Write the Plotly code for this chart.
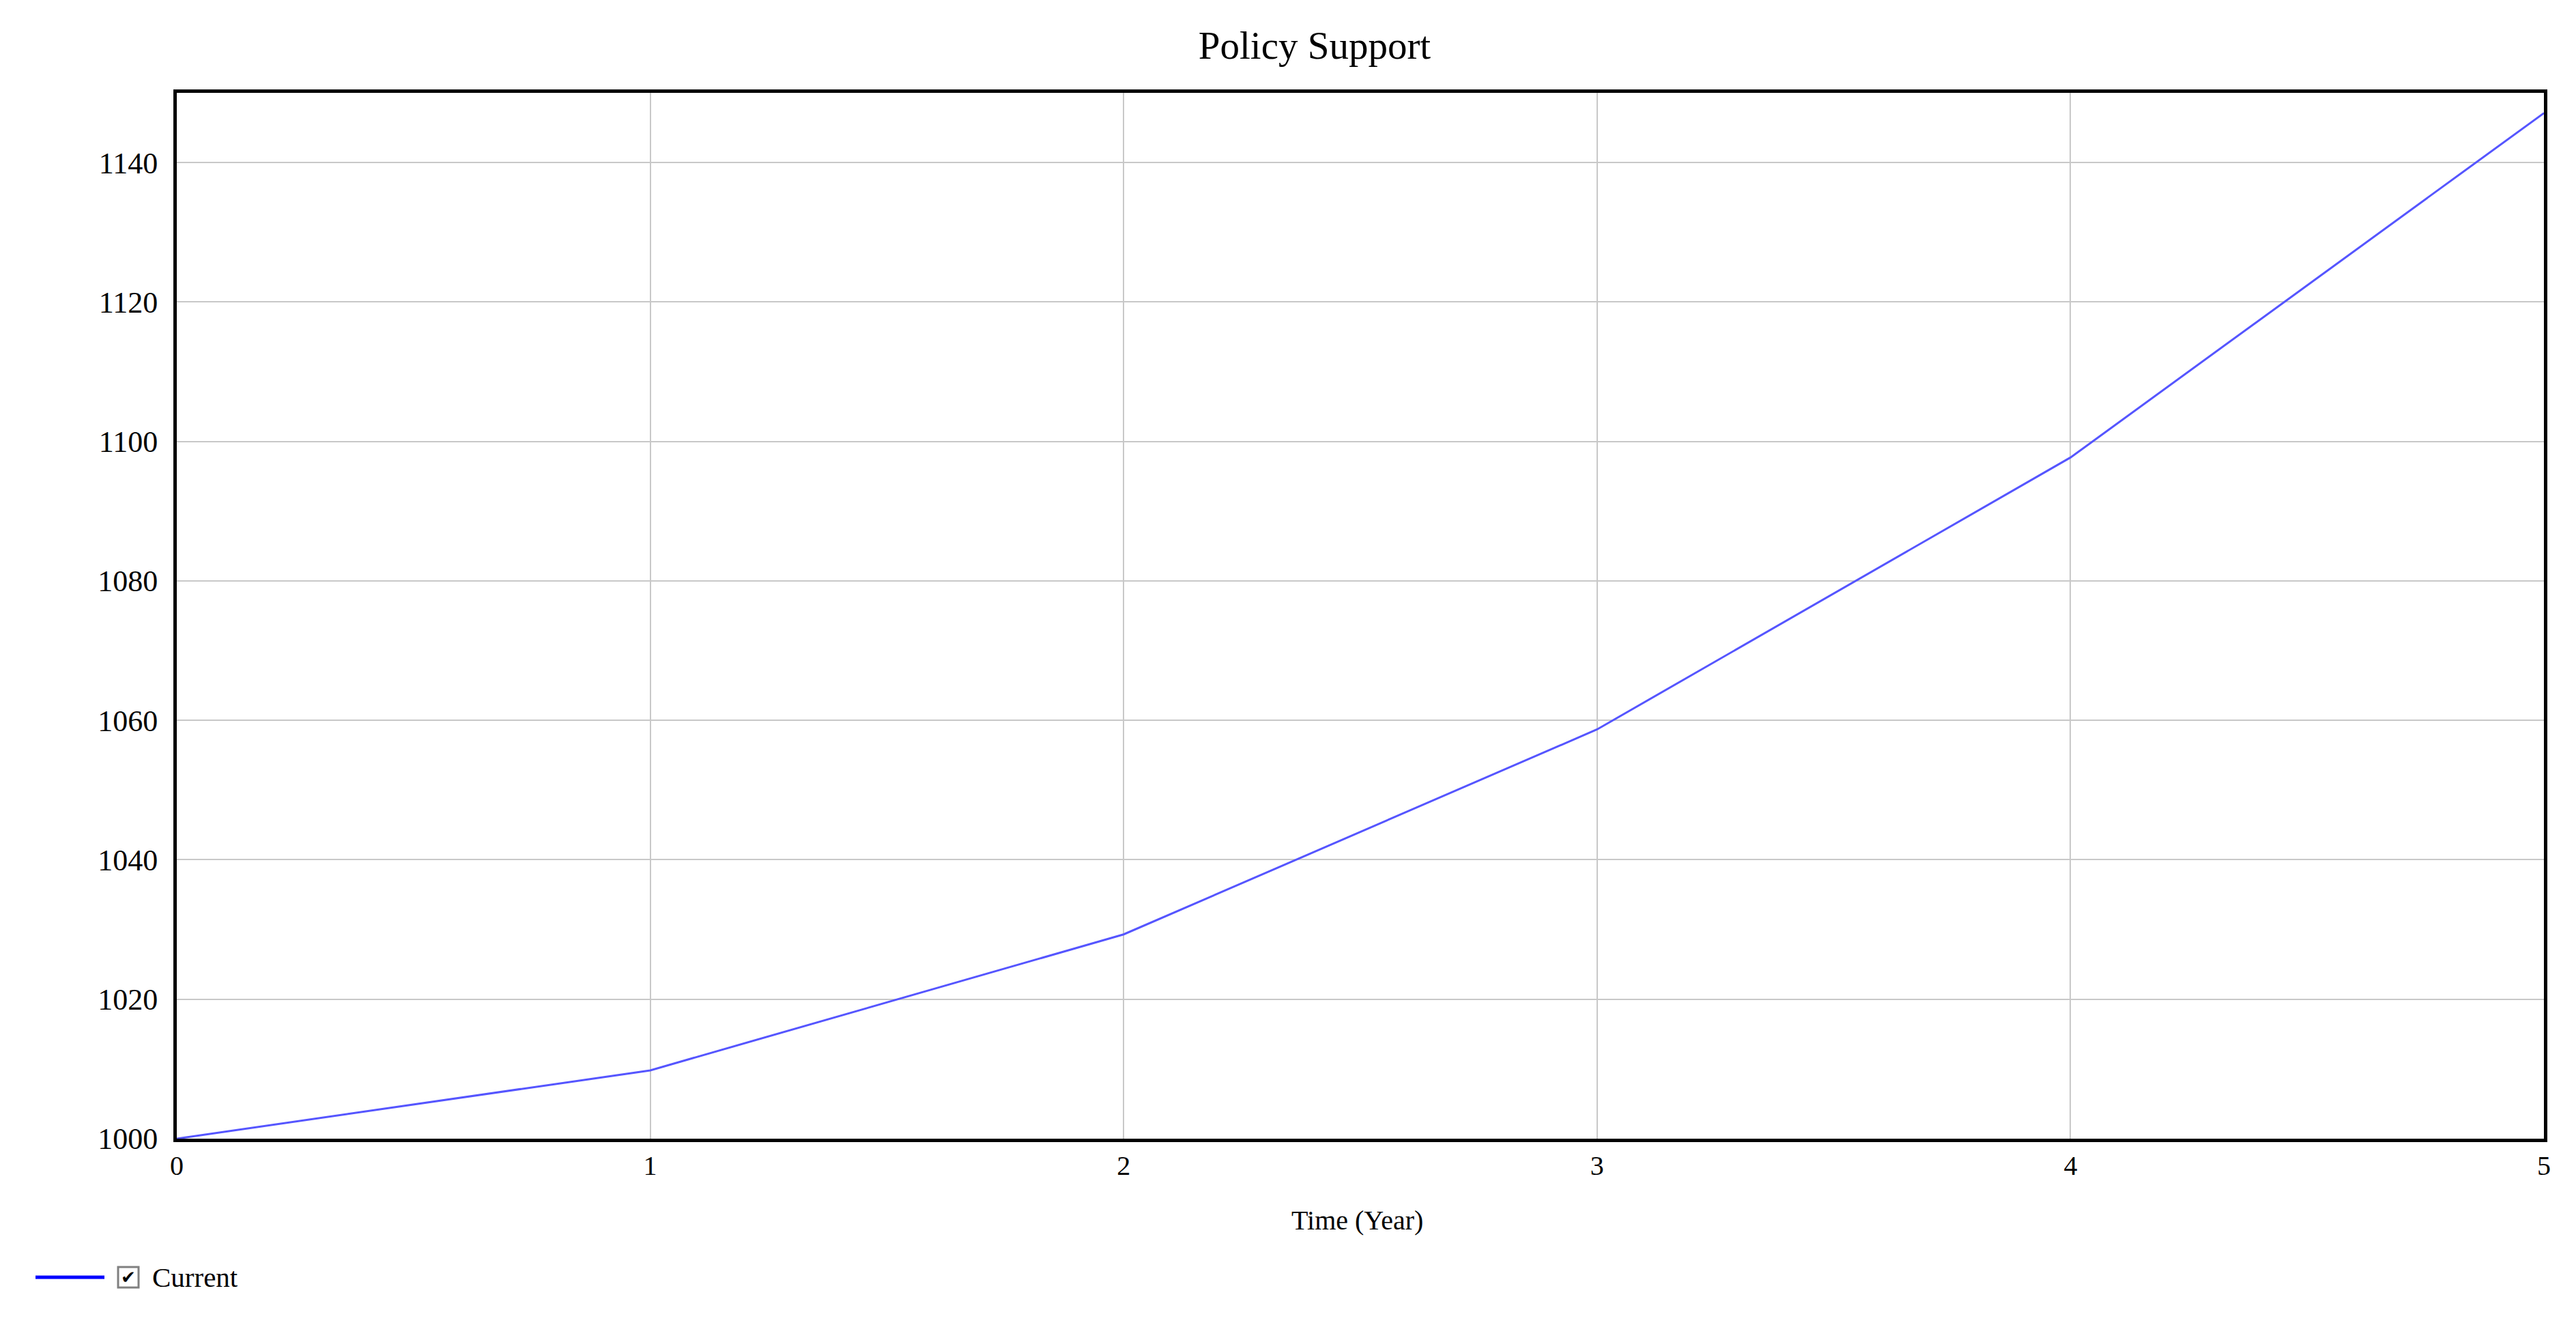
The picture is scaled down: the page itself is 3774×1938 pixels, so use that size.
import plotly.graph_objects as go

# Data
years = [0, 1, 2, 3, 4, 5]
policy_support = [1000.0, 1009.8, 1029.3, 1058.7, 1097.7, 1147.1]
x_ticks = [0, 1, 2, 3, 4, 5]
y_ticks = [1000, 1020, 1040, 1060, 1080, 1100, 1120, 1140]
series_name = "Current"

W, H = 3774, 1938
L, R, T, B = 251, 55, 128, 278
FONT = "Liberation Serif, Times New Roman, serif"

pw = W - L - R
ph = H - T - B
def ppx(x):
    return (x - L) / pw
def ppy(y):
    return (H - B - y) / ph

fig = go.Figure()
fig.add_trace(go.Scatter(
    x=years, y=policy_support, mode="lines", name=series_name,
    line=dict(color="rgb(85,85,255)", width=3), showlegend=False,
))

fig.update_layout(
    width=W, height=H,
    margin=dict(l=L, r=R, t=T, b=B, pad=0),
    paper_bgcolor="white", plot_bgcolor="white",
    font=dict(family=FONT, color="black", size=44),
    title=dict(text="Policy Support", x=1918 / W, xanchor="center",
               y=1 - 58 / H, yanchor="middle", font=dict(size=57, family=FONT)),
    xaxis=dict(range=[0, 5], tickvals=x_ticks, ticktext=[str(v) for v in x_ticks],
               showgrid=True, gridcolor="#c8c8c8", gridwidth=2,
               showline=True, linecolor="black", linewidth=5, mirror=True,
               ticks="", zeroline=False, tickfont=dict(size=40, family=FONT)),
    yaxis=dict(range=[1000, 1150], tickvals=y_ticks, ticktext=[str(v) for v in y_ticks],
               showgrid=True, gridcolor="#c8c8c8", gridwidth=2,
               showline=True, linecolor="black", linewidth=5, mirror=True,
               ticks="", zeroline=False, tickfont=dict(size=44, family=FONT),
               ticklabelstandoff=14),
)

# X axis title
fig.add_annotation(xref="paper", yref="paper", x=ppx(1980), y=ppy(1779),
                   text="Time (Year)", showarrow=False, xanchor="center", yanchor="middle",
                   font=dict(size=40, color="black", family=FONT))

# Manual legend (line, checkbox, label)
ly = 1863
fig.add_shape(type="line", xref="paper", yref="paper",
              x0=ppx(44), x1=ppx(145), y0=ppy(ly), y1=ppy(ly),
              line=dict(color="blue", width=5))
fig.add_shape(type="rect", xref="paper", yref="paper",
              x0=ppx(165), x1=ppx(195), y0=ppy(ly - 15), y1=ppy(ly + 15),
              line=dict(color="#808080", width=3), fillcolor="white")
fig.add_annotation(xref="paper", yref="paper", x=ppx(180), y=ppy(ly),
                   text="✔", showarrow=False, xanchor="center", yanchor="middle",
                   font=dict(size=26, color="black", family="DejaVu Sans"))
fig.add_annotation(xref="paper", yref="paper", x=ppx(213), y=ppy(ly),
                   text=series_name, showarrow=False, xanchor="left", yanchor="middle",
                   font=dict(size=41, color="black", family=FONT))

fig.write_html("out.html")
